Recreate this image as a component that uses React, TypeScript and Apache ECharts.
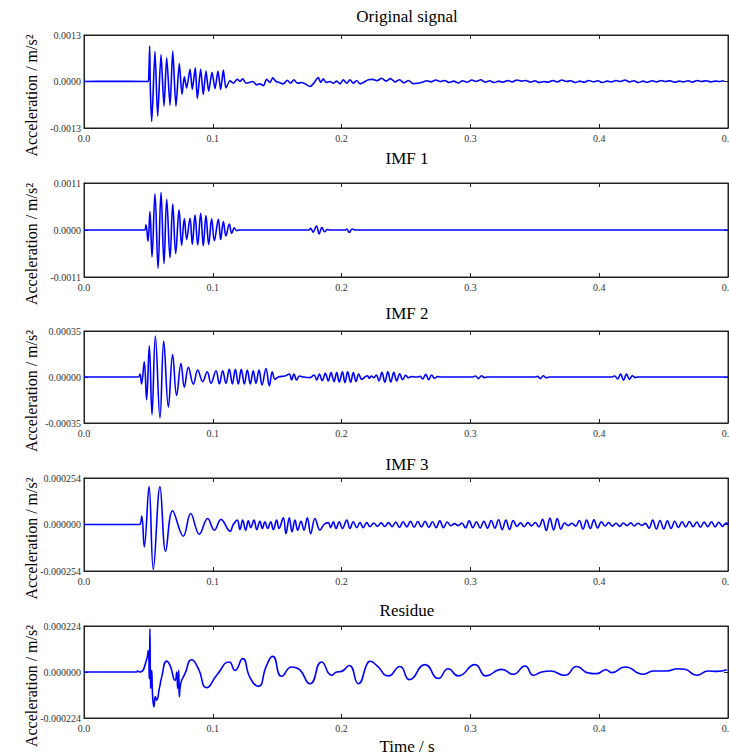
import React, { useEffect, useRef } from "react";
import * as echarts from "echarts";

// ---- Data (time in ms, amplitude in units of 1e-4 m/s^2) ----
const PANEL_TITLES = ["Original signal", "IMF 1", "IMF 2", "IMF 3", "Residue"];
const Y_LIMITS = [13, 11, 3.5, 2.54, 2.24];
const Y_DECIMALS = [4, 4, 5, 6, 6];
const X_TICKS_MS = [0, 100, 200, 300, 400, 500];

const ORIG_HEAD: [number, number][] = [
  [0, 0], [20, 0.05], [49.8, 0], [50.4, 3], [51.0, 9.9], [51.5, -2], [52.6, -11.2], [55.1, 8.4], [57.2, -9.7],
  [59.8, 7.5], [62.1, -6.9], [64.2, 6.6], [66.8, -6.7], [68.9, 8.5], [71.4, -6.9], [74.0, 5.0], [76.1, -3.6],
  [77.9, 1.3], [79.7, -1.8], [82.3, 3.4], [84.1, -2.2], [86.4, 3.8], [88.0, -4.8], [90.6, 3.4], [92.6, -3.6],
  [94.7, 2.9], [96.8, -2.7], [99.4, 2.6], [101.7, -2.0], [104.0, 2.9], [106.1, -2.2], [108.2, 3.2], [110.2, -1.8],
  [113.4, 0.19], [115.9, -0.47], [119.0, 0.65], [121.1, 0], [123.2, 0.75], [125.8, -0.47], [128.4, -0.28],
  [131.0, 0], [134.1, -0.93], [136.6, -0.65], [139.2, -1.2], [141.8, 0.65], [144.4, -0.28], [146.5, 1.0],
  [149.1, 0], [151.6, -0.28], [154.7, -0.65], [157.8, 0.37], [160.4, -0.47], [163.0, 0.47], [165.6, -0.47],
  [169.0, -0.28], [171.6, -0.65], [175.5, -1.4], [178.0, -0.65], [181.9, 1.1], [183.7, -0.28], [185.8, 0.75],
  [187.9, -0.28], [191.0, 0], [193.6, -0.47], [196.2, 0.1], [198.8, -0.65], [201.3, 0.47], [204.0, -0.47],
  [206.5, 0.47], [209.1, -0.47], [211.7, 0.28], [214.3, -0.65], [218.2, 0], [220.7, 0.47],
];
const ORIG_TAIL_START = 224;
const ORIG_TAIL_STEP = 3.5;
const ORIG_TAIL: number[] = [
  0.6, 0.2, 0.9, 0.1, 0.8, -0.1, 0.5, -0.4, 0.3, -0.6, -0.5, -0.2, 0.2, -0.1, 0.4, 0.0, 0.3, -0.3, 0.1, -0.4,
  0.2, -0.2, 0.4, 0.0, 0.5, -0.2, 0.2, -0.3, 0.1, -0.2, 0.3, -0.1, 0.4, 0.1, 0.3, -0.2, 0.2, -0.3, 0.0, -0.2,
  0.3, -0.1, 0.4, 0.0, 0.2, -0.3, 0.1, -0.2, 0.3, -0.1, 0.2, -0.3, 0.1, -0.1, 0.3, 0.0, 0.4, -0.1, 0.2, -0.3,
  0.1, -0.2, 0.2, -0.1, 0.3, 0.0, 0.2, -0.2, 0.1, -0.1, 0.2, -0.2, 0.3, 0.0, 0.2, -0.1, 0.1, 0.0, 0.2,
];

const IMF1: [number, number][] = [
  [0, 0], [47, 0], [48.1, 1.2], [49.7, -2.6], [51.2, 4.3], [52.8, -6.3], [55.1, 8.5], [57.5, -9.0],
  [59.8, 8.8], [62.1, -7.9], [64.2, 7.2], [66.8, -6.5], [68.9, 6.1], [71.2, -5.5], [73.8, 4.7], [75.8, -3.6],
  [77.9, 2.7], [79.7, -2.2], [82.3, 2.75], [84.1, -3.4], [86.2, 3.5], [88.3, -3.5], [90.6, 3.9], [92.6, -3.7],
  [94.7, 3.4], [96.8, -3.4], [99.1, 2.6], [101.2, -2.5], [104.3, 2.5], [106.1, -2.2], [108.2, 2.0], [110.2, -1.4],
  [112.8, 1.4], [114.7, -0.8], [116.7, 0.5], [118.5, -0.15], [120.6, 0], [174.5, 0], [176.0, 0.4], [177.8, -0.5],
  [180.5, 0.95], [182.6, -0.9], [184.7, 0.6], [186.8, -0.4], [189.0, 0.1], [191, 0], [203, 0], [204.0, 0.25],
  [206.0, -0.6], [208.2, 0.25], [210.4, 0], [500, 0],
];

const IMF2: [number, number][] = [
  [0, 0], [42.2, 0], [43.5, 0.23], [44.7, -0.53], [46.8, 1.16], [48.6, -1.74], [50.7, 2.37], [52.8, -2.87],
  [55.4, 3.12], [59.0, -3.12], [61.9, 2.74], [65.5, -2.29], [68.8, 1.71], [71.9, -1.41], [75.3, 1.03],
  [77.9, -0.78], [81.0, 0.73], [84.9, -0.55], [88.3, 0.53], [92.1, -0.35], [95.7, 0.4], [98.6, -0.48],
  [102.5, 0.48], [105.1, -0.53], [107.7, 0.48], [110.2, -0.48], [112.8, 0.58], [115.2, -0.53], [117.5, 0.58],
  [119.8, -0.53], [122.1, 0.58], [124.5, -0.53], [126.8, 0.53], [129.1, -0.53], [131.4, 0.48], [133.5, -0.48],
  [135.9, 0.53], [138.2, -0.6], [141.3, 0.65], [143.9, -0.68], [146.2, 0.4], [148.3, -0.18], [150.9, 0],
  [156, 0.08], [159.4, 0.23], [161.2, -0.23], [163.0, 0.23], [165.1, -0.23], [167.2, 0.08], [170.3, 0],
  [175.5, -0.05], [178.6, 0.15], [180.7, -0.23], [182.7, 0.23], [185.0, -0.28], [187.4, 0.28], [189.7, -0.3],
  [191.8, 0.33], [194.1, -0.35], [196.2, 0.33], [198.2, -0.38], [200.6, 0.4], [202.6, -0.43], [204.7, 0.4],
  [207.0, -0.4], [209.1, 0.33], [211.2, -0.35], [213.3, 0.23], [215.6, -0.18], [218.2, 0], [220, 0.1],
  [221.5, -0.1], [223, 0.08], [225, -0.05], [227, 0.15], [229, -0.3], [231.3, 0.35], [233.6, -0.4],
  [235.9, 0.4], [238.2, -0.38], [240.5, 0.35], [242.8, -0.3], [245.1, 0.25], [247.4, -0.2], [249.7, 0.12],
  [252, -0.06], [254, 0.03], [258, 0], [261, 0.05], [263, -0.15], [265.3, 0.2], [267.6, -0.2], [269.9, 0.15],
  [272.2, -0.1], [274.5, 0.03], [277, 0], [302, 0], [304, 0.08], [306.3, -0.12], [308.6, 0.1], [310.9, -0.05],
  [313, 0], [350, 0], [352, 0.05], [354.3, -0.12], [356.6, 0.1], [358.9, -0.06], [361, 0], [410, 0],
  [412, 0.08], [414.3, -0.15], [416.6, 0.22], [418.9, -0.25], [421.2, 0.22], [423.5, -0.18], [425.8, 0.1],
  [428.1, -0.05], [430, 0], [500, 0],
];

const IMF3_HEAD: [number, number][] = [
  [0, 0], [43, 0], [44.8, 0.46], [46.8, -1.23], [50.5, 2.07], [53.8, -2.46], [59.0, 2.07], [63.4, -1.47],
  [68.8, 0.75], [77.1, -0.64], [82.8, 0.6], [89.5, -0.53], [96.0, 0.33], [101.2, -0.31], [106.4, 0.28],
  [113.4, -0.37], [115.9, 0], [119.0, 0.24], [121.1, -0.28], [123.2, 0.24], [125.5, -0.31], [127.6, 0.2],
  [129.4, -0.17], [132.0, 0.24], [134.1, -0.28], [136.6, 0.18], [138.4, -0.22], [140.5, 0.15], [142.6, -0.22],
  [145.0, 0.15], [147.0, -0.28], [149.6, 0.24], [151.4, -0.22], [154.8, 0.37], [156.8, -0.5], [159.4, 0.37],
  [161.5, -0.4], [163.8, 0.24], [165.9, -0.31], [168.5, 0.18], [170.8, -0.31], [173.4, 0.37], [176.0, -0.5],
  [179.3, 0.33], [183.2, -0.31], [186.3, 0], [189.7, 0.1], [191.5, -0.17], [193.6, 0.15], [195.7, -0.22],
  [198.2, 0.15], [200.6, -0.22], [204.0, 0.24], [206.5, -0.22], [209.1, 0.15], [211.7, -0.17], [214.3, 0.1],
  [216.8, -0.17], [219.5, 0.1],
];
const IMF3_TAIL_START = 222.1;
const IMF3_TAIL_STEP = 2.85;
const IMF3_TAIL: number[] = [
  -0.12, 0.08, -0.1, 0.09, -0.11, 0.1, -0.12,
  0.14, -0.16, 0.15, -0.13, 0.17, -0.15, 0.16, -0.14, 0.18, -0.16, 0.15, -0.17, 0.2, -0.18, 0.14,
  -0.07, 0.05, -0.06, 0.08,
  -0.18, 0.2, -0.17, 0.15, -0.19, 0.18, -0.2, 0.22, -0.2,
  0.26, -0.28, 0.24, -0.27, 0.22,
  -0.1, 0.09, -0.12, 0.1, -0.08, 0.11, -0.13,
  0.28, -0.33, 0.35, -0.3, 0.32, -0.25,
  0.08, -0.06, 0.07, -0.09,
  0.22, -0.25, 0.24, -0.22, 0.25, -0.2, 0.15,
  -0.08, 0.1, -0.09, 0.07, -0.1, 0.08, -0.06, 0.09, -0.08, 0.07, -0.05, 0.06,
  -0.2, 0.24, -0.25, 0.22, -0.24, 0.2, -0.22, 0.18, -0.16,
  0.15, -0.14, 0.16, -0.12, 0.14, -0.15, 0.13, -0.12, 0.15, -0.13, 0.12, -0.1, 0.08, -0.05,
];

const RESIDUE: [number, number][] = [
  [0, 0], [40.9, 0], [41.5, 0.05], [43.5, 0], [48.6, 0.6], [49.9, 1.05], [50.7, -0.32], [51.2, 2.1],
  [51.7, -0.8], [52.5, 0.08], [53.3, -1.2], [54.3, -1.7], [55.4, -1.2], [56.4, -1.37], [58.5, -0.8],
  [60.3, -0.25], [64.2, 0.53], [66.8, 0.32], [70.7, -0.4], [72.0, 0.0], [72.7, -0.8], [73.5, 0.08],
  [74.0, -1.2], [75.1, -0.57], [78.4, -0.08], [83.6, 0.6], [88.8, 0.16], [95.2, -0.76], [103.0, -0.16],
  [112.8, 0.49], [117.2, 0.08], [123.2, 0.65], [128.9, -0.27], [135.3, -0.7], [141.8, 0.32], [146.5, 0.76],
  [153.5, -0.21], [161.2, 0.24], [166.4, 0.16], [175.5, -0.57], [184.5, 0.49], [192.3, -0.16], [196.2, 0],
  [200.0, 0.03], [205.9, 0.32], [212.9, -0.57], [220.7, 0.49], [222.0, 0.52], [227.2, 0.32], [236.3, -0.19],
  [245.3, 0.27], [252.6, -0.37], [264.8, 0.36], [275.1, -0.32], [282.8, 0.16], [290.6, -0.19], [303.6, 0.36],
  [312.1, -0.19], [324.3, 0.13], [333.3, -0.11], [342.4, 0.29], [348.9, -0.16], [355.3, 0], [361.8, 0.05],
  [373.4, -0.16], [382.5, 0.27], [391.6, -0.05], [398.0, -0.08], [405.3, 0.11], [409.7, -0.03], [420.0, 0.24],
  [434.3, -0.11], [442.0, 0.05], [452.4, 0.05], [461.4, 0.16], [466.6, 0.13], [475.7, -0.16], [484.7, 0.05],
  [491.2, 0.03], [499, 0.11],
];

// Build tail points from uniformly sampled values
function withTail(head: [number, number][], start: number, step: number, vals: number[]): [number, number][] {
  return head.concat(vals.map((v, i) => [start + i * step, v] as [number, number]));
}

const SERIES_DATA: [number, number][][] = [
  withTail(ORIG_HEAD, ORIG_TAIL_START, ORIG_TAIL_STEP, ORIG_TAIL),
  IMF1,
  IMF2,
  withTail(IMF3_HEAD, IMF3_TAIL_START, IMF3_TAIL_STEP, IMF3_TAIL),
  RESIDUE,
];
const SMOOTHING = [0.25, 0.4, 0.4, 0.4, 0.55];

const FONT = "Liberation Serif";
const GRID_LAYOUT = [
  { top: 35, height: 93 },
  { top: 183, height: 94 },
  { top: 331, height: 92 },
  { top: 478, height: 93 },
  { top: 626, height: 92 },
];
const TITLE_Y = [16, 158, 313, 464, 610];
const PLOT_LEFT = 84;
const PLOT_WIDTH = 644;

export default function App() {
  const ref = useRef<HTMLDivElement>(null);
  useEffect(() => {
    document.body.style.margin = "0";
    document.documentElement.style.overflow = "hidden";
    if (!ref.current) return;
    const chart = echarts.init(ref.current, undefined, { renderer: "svg", width: 729, height: 756 });

    const grid: any[] = [];
    const xAxis: any[] = [];
    const yAxis: any[] = [];
    const series: any[] = [];
    const graphic: any[] = [];

    GRID_LAYOUT.forEach((g, i) => {
      grid.push({
        left: PLOT_LEFT, top: g.top, width: PLOT_WIDTH, height: g.height,
        containLabel: false, outerBoundsMode: "none",
        show: true, borderColor: "#222", borderWidth: 1, backgroundColor: "transparent",
      });
      const lim = Y_LIMITS[i];
      const dec = Y_DECIMALS[i];
      const common = {
        type: "value", gridIndex: i, min: X_TICKS_MS[0], max: X_TICKS_MS[X_TICKS_MS.length - 1], interval: 100,
        splitLine: { show: false },
        axisLine: { show: true, onZero: false, lineStyle: { color: "#222", width: 1 } },
        axisTick: { show: true, inside: true, length: 4, lineStyle: { color: "#222" } },
      };
      xAxis.push({
        ...common, position: "bottom",
        axisLabel: {
          show: true, fontFamily: FONT, fontSize: 10, color: "#333", margin: 5,
          showMaxLabel: true, showMinLabel: true,
          formatter: (v: number) => (v / 1000).toFixed(1),
        },
      });
      xAxis.push({ ...common, position: "top", axisLabel: { show: false } });
      const ycommon = {
        type: "value", gridIndex: i, min: -lim, max: lim, interval: lim,
        splitLine: { show: false },
        axisLine: { show: true, onZero: false, lineStyle: { color: "#222", width: 1 } },
        axisTick: { show: true, inside: true, length: 4, lineStyle: { color: "#222" } },
      };
      yAxis.push({
        ...ycommon, position: "left",
        axisLabel: {
          show: true, fontFamily: FONT, fontSize: 10, color: "#333", margin: 3,
          showMaxLabel: true, showMinLabel: true,
          formatter: (v: number) => {
            const x = v * 1e-4;
            return (Math.abs(x) < 1e-15 ? 0 : x).toFixed(dec);
          },
        },
      });
      yAxis.push({ ...ycommon, position: "right", axisLabel: { show: false } });

      series.push({
        type: "line",
        xAxisIndex: 2 * i,
        yAxisIndex: 2 * i,
        data: SERIES_DATA[i],
        showSymbol: false,
        smooth: SMOOTHING[i],
        clip: true,
        lineStyle: { color: "#0000ff", width: 1.6 },
      });

      graphic.push({
        type: "text", x: PLOT_LEFT + PLOT_WIDTH / 2 + 1, y: TITLE_Y[i],
        style: {
          text: PANEL_TITLES[i], fontFamily: FONT, fontSize: 17, fill: "#000",
          textAlign: "center", textVerticalAlign: "middle",
        },
      });
      graphic.push({
        type: "text", x: 31, y: g.top + g.height / 2 + 14, rotation: Math.PI / 2,
        style: {
          text: "Acceleration / m/s²", fontFamily: FONT, fontSize: 16, fill: "#000",
          textAlign: "center", textVerticalAlign: "middle",
        },
      });
    });

    graphic.push({
      type: "text", x: PLOT_LEFT + PLOT_WIDTH / 2 + 1, y: 746,
      style: {
        text: "Time / s", fontFamily: FONT, fontSize: 17, fill: "#000",
        textAlign: "center", textVerticalAlign: "middle",
      },
    });

    chart.setOption({
      animation: false,
      backgroundColor: "#fff",
      grid, xAxis, yAxis, series, graphic,
    });
    return () => chart.dispose();
  }, []);
  return (
    <div
      ref={ref}
      style={{ position: "fixed", left: 0, top: 0, width: 729, height: 756, overflow: "hidden" }}
    />
  );
}
